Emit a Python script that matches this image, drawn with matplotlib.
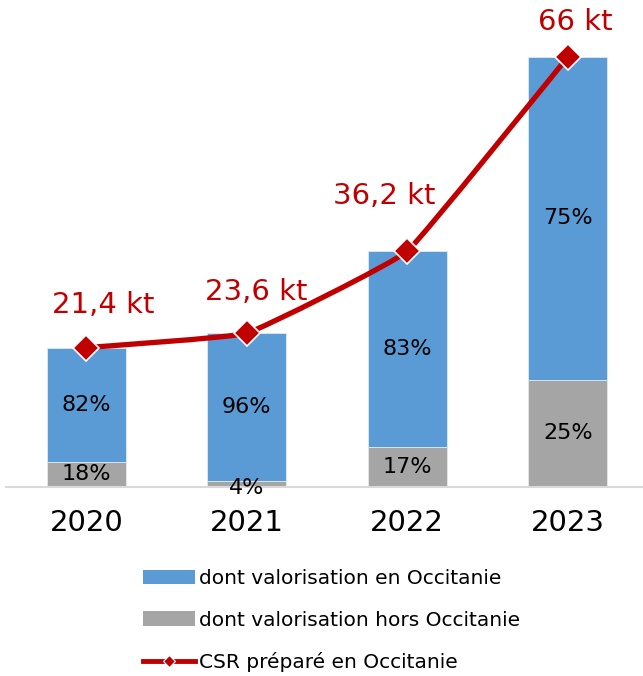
import numpy as np
import matplotlib
matplotlib.use("Agg")
import matplotlib.pyplot as plt
from matplotlib.path import Path
from matplotlib.patches import PathPatch, Patch
from matplotlib.lines import Line2D

years = ["2020", "2021", "2022", "2023"]
totals = [21.4, 23.6, 36.2, 66.0]
share_in = [82, 96, 83, 75]
share_out = [18, 4, 17, 25]
total_labels = ["21,4 kt", "23,6 kt", "36,2 kt", "66 kt"]

legend_labels = [
    "dont valorisation en Occitanie",
    "dont valorisation hors Occitanie",
    "CSR préparé en Occitanie",
]

BLUE = "#5B9BD5"
GREY = "#A5A5A5"
RED = "#C00000"

# label offsets (points) relative to the markers
label_offsets = [(12, 31), (6.5, 29.5), (-16.5, 39.6), (5.8, 25.2)]

plt.rcParams["font.family"] = "DejaVu Sans"

fig = plt.figure(figsize=(6.43, 6.76), dpi=100)
ax = fig.add_axes([6 / 643, 189 / 676, 642 / 643, 487 / 676])

x = np.arange(len(years))
totals = np.array(totals)
out_vals = totals * np.array(share_out) / 100
in_vals = totals * np.array(share_in) / 100

ax.bar(x, out_vals, width=0.49, color=GREY, edgecolor="#E8E8E8", linewidth=0.6, zorder=2)
ax.bar(x, in_vals, bottom=out_vals, width=0.49, color=BLUE, edgecolor="#DDEBF7",
       linewidth=0.6, zorder=2)

for i in range(len(years)):
    ax.text(x[i], out_vals[i] + in_vals[i] / 2, f"{share_in[i]}%", ha="center", va="center",
            fontsize=16, color="black", zorder=3)
    y_out = out_vals[i] / 2 if out_vals[i] > 2 else -0.2
    ax.text(x[i], y_out, f"{share_out[i]}%", ha="center", va="center",
            fontsize=16, color="black", zorder=3)

# very lightly smoothed line (bezier through the data points)
pts = np.column_stack([x, totals]).astype(float)
ext = np.vstack([pts[0], pts, pts[-1]])
verts = [pts[0]]
codes = [Path.MOVETO]
for k in range(1, len(ext) - 2):
    p0, p1, p2, p3 = ext[k - 1], ext[k], ext[k + 1], ext[k + 2]
    verts += [p1 + (p2 - p0) / 22, p2 - (p3 - p1) / 22, p2]
    codes += [Path.CURVE4] * 3
ax.add_patch(PathPatch(Path(verts, codes), facecolor="none", edgecolor=RED,
                       linewidth=3.8, zorder=4, capstyle="round"))
ax.plot(x, totals, linestyle="none", marker="D", markersize=13, color=RED,
        markeredgecolor="white", markeredgewidth=1.2, zorder=5)

for i, lab in enumerate(total_labels):
    ax.annotate(lab, (x[i], totals[i]), xytext=label_offsets[i], textcoords="offset points",
                ha="center", va="center", fontsize=21, color=RED, zorder=6)

ax.set_xlim(-0.5, 3.5)
ax.set_ylim(0, 74.75)
ax.set_xticks(x)
ax.set_xticklabels(years, fontsize=21)
ax.tick_params(axis="x", length=0, pad=16)
ax.set_yticks([])
for side in ["top", "left", "right"]:
    ax.spines[side].set_visible(False)
ax.spines["bottom"].set_color("#D9D9D9")
ax.spines["bottom"].set_linewidth(1.5)

handles = [
    Patch(facecolor=BLUE),
    Patch(facecolor=GREY),
    Line2D([0], [0], color=RED, linewidth=3.5, marker="D", markersize=6,
           markeredgecolor="white", markeredgewidth=0.8),
]
fig.legend(handles, legend_labels, loc="upper left", bbox_to_anchor=(143 / 643, 1 - 569 / 676),
           frameon=False, fontsize=14.5, handlelength=2.6, handleheight=0.72,
           handletextpad=0.2, labelspacing=1.12, borderaxespad=0, borderpad=0)

fig.savefig("out.png", dpi=100)
